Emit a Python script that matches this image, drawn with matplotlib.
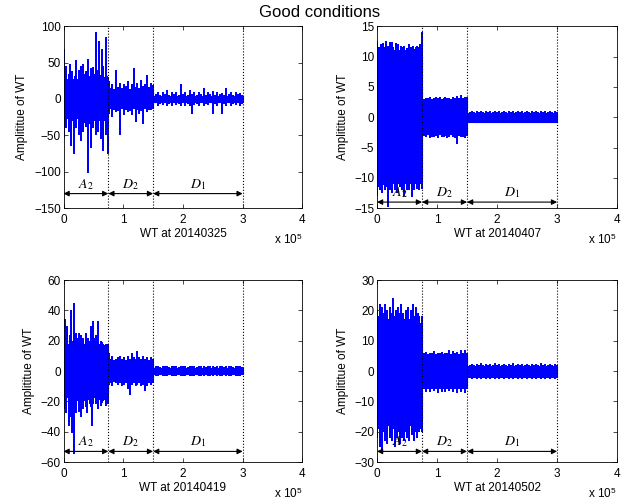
import numpy as np
import matplotlib
matplotlib.use("Agg")
import matplotlib.pyplot as plt

plt.rcParams['font.family'] = ['Liberation Sans', 'DejaVu Sans']
plt.rcParams['mathtext.fontset'] = 'stix'

# segment borders (x 10^5 samples) and names
seg_edges = [0, 0.75, 1.5, 3.0]
seg_names = ['$A_2$', '$D_2$', '$D_1$']

# dense body of each segment (upper, lower) and the peaks sticking out of it,
# peaks listed in order along each segment [A2, D2, D1]

# ---- 20140325 ----
p1_core_hi = [22, 11, 4]
p1_core_lo = [-22, -11, -4]
p1_up = [
    [68, 30, 45, 28, 35, 48, 30, 38, 27, 32, 53, 28, 40, 33, 46, 29, 48, 35, 38, 30, 55, 32, 42, 28, 44, 35,
     92, 30, 40, 80, 33, 69, 45, 30, 85, 32, 30],
    [25, 15, 20, 14, 40, 16, 22, 15, 21, 18, 25, 14, 20, 43, 17, 22, 15, 26, 18, 20, 33, 16, 22, 17],
    [19, 7, 9, 6, 10, 7, 12, 6, 9, 7, 10, 6, 21, 7, 9, 6, 12, 7, 10, 6, 9, 7, 15, 6, 10, 7, 11, 6, 9, 7,
     8, 6, 15, 7, 10, 6, 9, 7, 8, 6],
]
p1_dn = [
    [-54, -30, -40, -28, -45, -35, -65, -30, -76, -32, -40, -28, -49, -35, -58, -30, -45, -33, -38, -30,
     -102, -35, -67, -28, -40, -30, -49, -33, -45, -30, -55, -35, -72, -30, -50, -33, -75],
    [-20, -14, -25, -15, -18, -16, -49, -14, -22, -15, -18, -16, -22, -14, -31, -15, -20, -16, -35, -14,
     -18, -15, -15, -14],
    [-9, -6, -10, -7, -8, -6, -10, -7, -9, -6, -8, -7, -9, -6, -10, -7, -9, -20, -8, -7, -10, -6, -9, -7,
     -8, -6, -21, -7, -9, -6, -21, -7, -10, -6, -9, -7, -8, -6, -10, -7],
]

# ---- 20140407 ----
p2_core_hi = [10, 2.7, 0.75]
p2_core_lo = [-10.3, -2.7, -0.75]
p2_up = [
    [12.6, 11.5, 11, 12, 11.2, 12.3, 11.5, 12.5, 11, 11.8, 12.4, 11.2, 12.4, 11.5, 11, 12.3, 11.6, 12, 11,
     11.8, 11.2, 11.5, 11.8, 11, 11.4, 11.2, 12, 11.5, 11, 11.8, 11.2, 11.5, 11.8, 11, 11.6, 12, 14],
    [3.3, 3.0, 3.2, 3.1, 3.4, 3.0, 3.2, 3.3, 3.1, 3.4, 3.0, 3.2, 3.3, 3.1, 3.2, 3.0, 3.3, 3.2, 3.5, 3.1,
     3.6, 3.2, 3.3, 3.4],
    [1.0, 0.9, 0.95, 0.85, 1.0, 0.9, 0.95, 0.88, 1.0, 0.9, 0.95, 0.85, 1.0, 0.9, 0.95, 0.88, 1.0, 0.9,
     0.95, 0.85, 1.0, 0.9, 0.95, 0.88, 1.0, 0.9, 0.95, 0.85, 1.0, 0.9, 0.95, 0.88, 1.0, 0.9, 0.95, 0.85,
     1.0, 0.9, 0.95, 0.88],
]
p2_dn = [
    [-13, -11.5, -12, -11, -12.5, -11.2, -12, -11.5, -11, -14.8, -12, -11.5, -12.5, -11, -12, -11.5, -12.5,
     -11, -11.5, -11.2, -12, -11.5, -13, -11, -12, -11.5, -12, -11, -13.2, -11.5, -12, -11, -11.8, -11.5,
     -12, -11, -11.8],
    [-3.5, -3.1, -3.3, -3.0, -3.5, -3.2, -3.3, -3.1, -3.4, -3.0, -3.2, -3.3, -3.1, -3.4, -3.2, -3.0, -3.3,
     -3.4, -4.4, -3.1, -3.3, -3.2, -3.4, -3.1],
    [-1.0, -0.9, -0.95, -0.85, -1.0, -0.9, -0.95, -0.88, -1.0, -0.9, -0.95, -0.85, -1.0, -0.9, -0.95, -0.88,
     -1.0, -0.9, -0.95, -0.85, -1.0, -0.9, -0.95, -0.88, -1.0, -0.9, -0.95, -0.85, -1.0, -0.9, -0.95, -0.88,
     -1.0, -0.9, -0.95, -0.85, -1.0, -0.9, -0.95, -0.88],
]

# ---- 20140419 ----
p3_core_hi = [14, 6, 2]
p3_core_lo = [-15, -6, -2]
p3_up = [
    [26, 34, 20, 30, 18, 24, 40, 20, 45, 18, 25, 22, 25, 20, 24, 19, 22, 18, 25, 21, 22, 20, 30, 19, 33,
     22, 24, 20, 33, 18, 20, 19, 18, 17, 18, 16, 18],
    [12, 8, 10, 7, 8, 9, 10, 8, 9, 7, 10, 8, 12, 9, 8, 13, 9, 8, 10, 8, 9, 7, 9, 8],
    [4, 3, 3.5, 2.8, 3.5, 3, 3.5, 2.8, 3.3, 3, 3.5, 2.8, 3.5, 3, 3.3, 2.8, 3.5, 3, 3.5, 2.8, 3.3, 3, 3.5,
     2.8, 3.5, 3, 3.3, 2.8, 3.5, 3, 3.2, 2.8, 3.5, 3, 3.2, 2.8, 3.3, 3, 3.2, 2.8],
]
p3_dn = [
    [-25, -20, -28, -18, -36, -22, -30, -41, -55, -22, -28, -20, -27, -18, -30, -22, -25, -20, -24, -28,
     -19, -22, -24, -36, -22, -18, -22, -20, -25, -19, -23, -21, -20, -19, -23, -18, -22],
    [-9, -8, -10, -7, -8, -9, -8, -10, -9, -8, -12, -15.6, -9, -8, -10, -9, -8, -10, -9, -13, -10, -8, -9, -8],
    [-3.5, -3, -3.3, -2.8, -3.5, -3, -3.2, -2.8, -3.5, -3, -3.3, -2.8, -3.5, -3, -3.2, -2.8, -3.5, -3, -3.3,
     -2.8, -3.5, -3, -3.2, -2.8, -3.5, -3, -3.3, -2.8, -3.2, -3, -3.3, -2.8, -3.2, -3, -3.3, -2.8, -3.2, -3,
     -3.1, -2.8],
]

# ---- 20140502 ----
p4_core_hi = [15, 5, 1.8]
p4_core_lo = [-16, -5, -1.9]
p4_up = [
    [20, 18, 22, 17, 21, 19, 22, 18, 20, 17, 21, 19, 19, 24, 18, 20, 17, 21, 19, 22, 18, 19, 17, 20, 18,
     21, 17, 20, 19, 22, 18, 21, 17, 19, 18, 16, 18],
    [7, 5.8, 6.2, 5.6, 6, 5.8, 6.5, 5.6, 6, 5.8, 6.3, 5.6, 6, 5.8, 6.8, 5.6, 6.5, 5.8, 6.2, 5.6, 6.8, 5.8,
     7, 6],
    [2.5, 2.1, 2.4, 2.0, 2.3, 2.1, 2.5, 2.0, 2.4, 2.1, 2.3, 2.0, 2.5, 2.1, 2.4, 2.0, 2.3, 2.1, 2.4, 2.0,
     2.5, 2.1, 2.3, 2.0, 2.4, 2.1, 2.4, 2.0, 2.3, 2.1, 2.4, 2.0, 2.5, 2.1, 2.3, 2.0, 2.4, 2.1, 2.2, 2.0],
]
p4_dn = [
    [-22, -19, -25, -18, -26, -20, -23, -19, -24, -18, -22, -20, -23, -19, -25, -18, -22, -20, -24, -19,
     -22, -18, -23, -20, -22, -19, -23, -18, -21, -19, -23, -20, -22, -18, -20, -19, -20],
    [-7.5, -6, -6.8, -5.8, -7, -6, -6.5, -5.8, -7.2, -6, -6.8, -5.8, -7, -6, -6.5, -5.8, -7, -6, -7.3,
     -5.8, -6.8, -6, -7.3, -6],
    [-2.7, -2.3, -2.5, -2.2, -2.6, -2.3, -2.5, -2.2, -2.6, -2.3, -2.5, -2.2, -2.6, -2.3, -2.5, -2.2, -2.7,
     -2.3, -2.5, -2.2, -2.6, -2.3, -2.5, -2.2, -2.6, -2.3, -2.5, -2.2, -2.7, -2.3, -2.5, -2.2, -2.6, -2.3,
     -2.5, -2.2, -2.6, -2.3, -2.5, -2.2],
]

panels = [
    ('WT at 20140325', p1_core_hi, p1_core_lo, p1_up, p1_dn, (-150, 100), 50, -130),
    ('WT at 20140407', p2_core_hi, p2_core_lo, p2_up, p2_dn, (-15, 15), 5, -14),
    ('WT at 20140419', p3_core_hi, p3_core_lo, p3_up, p3_dn, (-60, 60), 20, -53),
    ('WT at 20140502', p4_core_hi, p4_core_lo, p4_up, p4_dn, (-30, 30), 10, -26.5),
]

fig = plt.figure(figsize=(6.32, 5.04), dpi=100)
boxes = [[0.1005, 0.587, 0.378, 0.361], [0.5965, 0.587, 0.38, 0.361],
         [0.1005, 0.0833, 0.378, 0.361], [0.5965, 0.0833, 0.38, 0.361]]
fs = 8.5
blue = (0, 0, 1)

for box, (xl, hi, lo, ups, dns, ylim, ystep, arr_y) in zip(boxes, panels):
    ax = fig.add_axes(box)
    for i in range(3):
        a, b = seg_edges[i], seg_edges[i + 1]
        ax.fill_between([a, b], lo[i], hi[i], color=blue, linewidth=0.8,
                        edgecolor=blue)
        xu = np.linspace(a + 0.005, b - 0.005, len(ups[i]))
        xd = np.linspace(a + 0.005, b - 0.005, len(dns[i]))
        ax.vlines(xu, 0, ups[i], color=blue, linewidth=1.2, antialiased=False)
        ax.vlines(xd, 0, dns[i], color=blue, linewidth=1.2, antialiased=False)
    for xv in seg_edges[1:]:
        ax.axvline(xv, color='k', linestyle=':', linewidth=0.8)
    for i in range(3):
        ax.annotate('', xy=(seg_edges[i + 1], arr_y), xytext=(seg_edges[i], arr_y),
                    arrowprops=dict(arrowstyle='<|-|>', color='k', lw=0.8,
                                    mutation_scale=8, shrinkA=0, shrinkB=0))
        ax.annotate(seg_names[i], xy=((seg_edges[i] + seg_edges[i + 1]) / 2, arr_y),
                    xytext=(0, 1.5), textcoords='offset points',
                    ha='center', va='bottom', fontsize=10)
    ax.set_xlim(0, 4)
    ax.set_ylim(*ylim)
    ax.set_xticks([0, 1, 2, 3, 4])
    ax.set_yticks(np.arange(ylim[0], ylim[1] + ystep / 2, ystep))
    ax.tick_params(direction='in', top=True, right=True, length=3,
                   width=0.5, labelsize=fs)
    ax.tick_params(axis='x', pad=4)
    ax.tick_params(axis='y', pad=2)
    for s in ax.spines.values():
        s.set_linewidth(0.6)
    ax.set_xlabel(xl, fontsize=fs, labelpad=2)
    ax.set_ylabel('Amplititue of WT', fontsize=fs, labelpad=4)
    ax.text(1.0, -0.175, 'x 10$^{\\mathregular{5}}$', transform=ax.transAxes,
            ha='right', va='center', fontsize=fs)

fig.suptitle('Good conditions', x=0.506, y=0.99, fontsize=12)
fig.savefig('out.png', dpi=100)
